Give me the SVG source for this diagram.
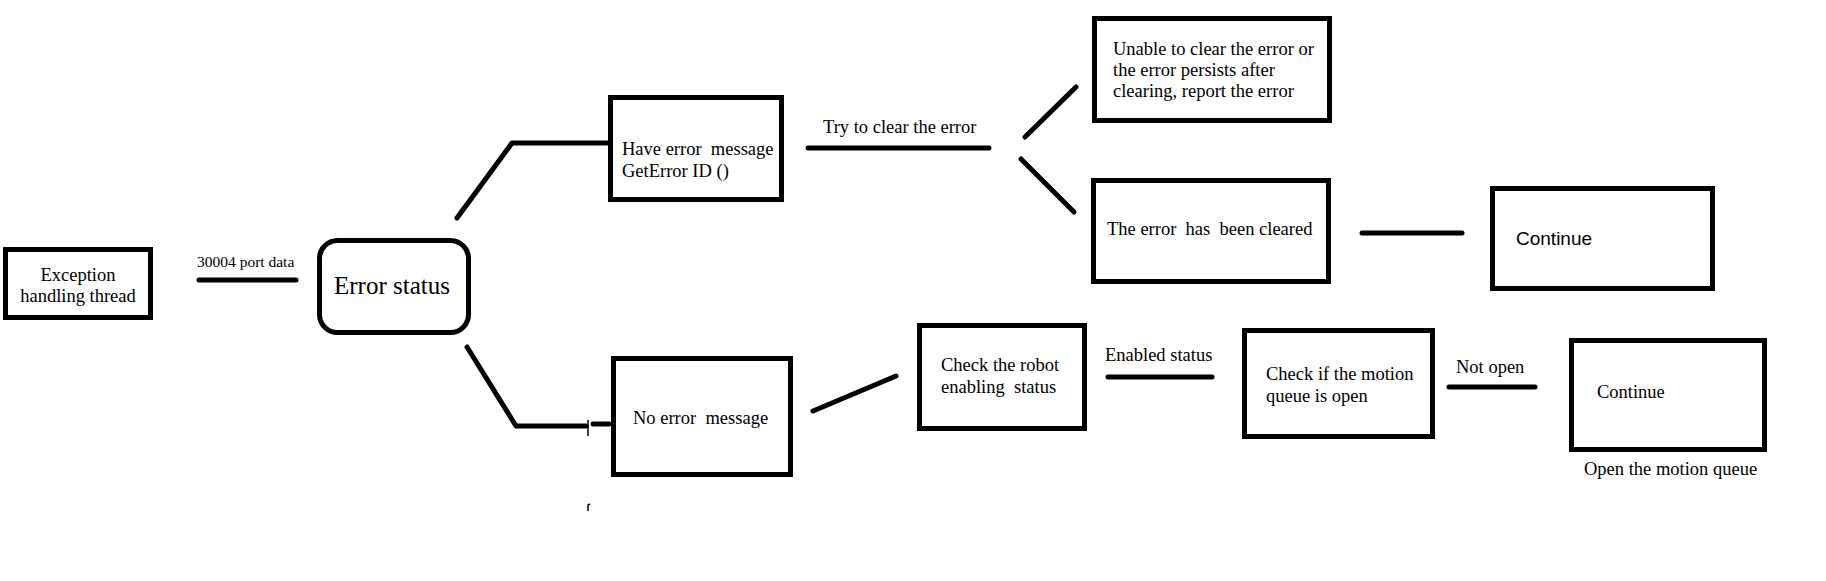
<svg xmlns="http://www.w3.org/2000/svg" width="1826" height="581" viewBox="0 0 1826 581">
<style>
  .box { fill: #ffffff; stroke: #000000; stroke-width: 5; }
  .ln { fill: none; stroke: #000000; stroke-width: 5; stroke-linecap: round; stroke-linejoin: round; }
  .thin { fill: none; stroke: #000000; stroke-width: 1.5; }
  .t { font-family: "Liberation Serif", "Times New Roman", serif; font-size: 18.5px; fill: #000000; }
  .tc { text-anchor: middle; }
  .s { font-family: "Liberation Sans", Arial, sans-serif; font-size: 19px; fill: #000000; }
</style>
<rect width="1826" height="581" fill="#ffffff"/>
<g id="connectors">
  <line class="ln" x1="199" y1="280" x2="296" y2="280"/>
  <path class="ln" d="M457,218 L512,143 L607,143"/>
  <line class="ln" x1="808" y1="148" x2="989" y2="148"/>
  <line class="ln" x1="1025" y1="137" x2="1076" y2="87"/>
  <line class="ln" x1="1021" y1="159" x2="1074" y2="212"/>
  <line class="ln" x1="1362" y1="233" x2="1462" y2="233"/>
  <path class="ln" d="M467,347 L516,426 L586,426"/>
  <line class="thin" x1="588" y1="420" x2="588" y2="436"/>
  <line class="ln" x1="593" y1="424" x2="609" y2="424"/>
  <line class="ln" x1="813" y1="411" x2="896" y2="376"/>
  <line class="ln" x1="1108" y1="377" x2="1212" y2="377"/>
  <line class="ln" x1="1449" y1="387" x2="1535" y2="387"/>
  <path class="thin" d="M588,511 L588,505 L590,504"/>
  <text class="t" x="197" y="267" style="font-size:15.5px">30004 port data</text>
  <text class="t" x="823" y="133">Try to clear the error</text>
  <text class="t" x="1105" y="361">Enabled status</text>
  <text class="t" x="1456" y="373">Not open</text>
</g>
<g id="node-exception">
  <rect class="box" x="5.5" y="249.5" width="145" height="68"/>
  <text class="t tc" x="78" y="281">Exception</text>
  <text class="t tc" x="78" y="302">handling thread</text>
</g>
<g id="node-error-status">
  <rect class="box" x="319.5" y="240.5" width="149" height="92" rx="18" ry="18"/>
  <text class="t tc" x="392" y="294" style="font-size:25px">Error status</text>
</g>
<g id="node-have-error">
  <rect class="box" x="610.5" y="97.5" width="171" height="102"/>
  <text class="t" x="622" y="155" xml:space="preserve">Have error  message</text>
  <text class="t" x="622" y="177">GetError ID ()</text>
</g>
<g id="node-unable">
  <rect class="box" x="1094.5" y="18.5" width="235" height="102"/>
  <text class="t" x="1113" y="55">Unable to clear the error or</text>
  <text class="t" x="1113" y="76">the error persists after</text>
  <text class="t" x="1113" y="97">clearing, report the error</text>
</g>
<g id="node-cleared">
  <rect class="box" x="1093.5" y="180.5" width="235" height="101"/>
  <text class="t" x="1107" y="235" xml:space="preserve">The error  has  been cleared</text>
</g>
<g id="node-continue-1">
  <rect class="box" x="1492.5" y="188.5" width="220" height="100"/>
  <text class="s" x="1516" y="245">Continue</text>
</g>
<g id="node-no-error">
  <rect class="box" x="613.5" y="358.5" width="177" height="116"/>
  <text class="t" x="633" y="424" xml:space="preserve">No error  message</text>
</g>
<g id="node-check-robot">
  <rect class="box" x="919.5" y="325.5" width="165" height="103"/>
  <text class="t" x="941" y="371">Check the robot</text>
  <text class="t" x="941" y="393" xml:space="preserve">enabling  status</text>
</g>
<g id="node-check-motion">
  <rect class="box" x="1244.5" y="330.5" width="188" height="106"/>
  <text class="t" x="1266" y="380">Check if the motion</text>
  <text class="t" x="1266" y="402">queue is open</text>
</g>
<g id="node-continue-2">
  <rect class="box" x="1571.5" y="340.5" width="193" height="109"/>
  <text class="t" x="1597" y="398">Continue</text>
  <text class="t" x="1584" y="475">Open the motion queue</text>
</g>
</svg>
